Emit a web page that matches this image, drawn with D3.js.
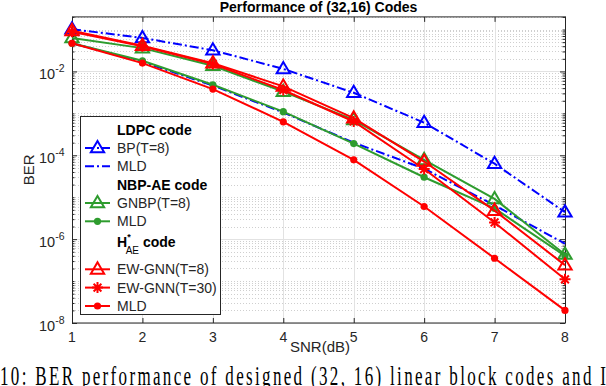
<!DOCTYPE html>
<html>
<head>
<meta charset="utf-8">
<script src="https://cdn.jsdelivr.net/npm/d3@7"></script>
<style>
	body { margin: 0; background: #fff; }
	svg { display: block; font-family: "Liberation Sans", Arial, sans-serif; }
</style>
</head>
<body>
<div id="chart"></div>
<script>
// values
const snr = [1, 2, 3, 4, 5, 6, 7, 8];
const bpT8 = [0.102, 0.063, 0.032, 0.0115, 0.0031, 6.0e-4, 6.3e-5, 4.4e-6];
const ldpcMld = [0.047, 0.017, 0.0046, 0.00105, 2.0e-4, 4.8e-5, 6.4e-6, 7.8e-7];
const gnbpT8 = [0.063, 0.036, 0.0137, 0.0033, 7.0e-4, 7.8e-5, 9.1e-6, 4.3e-7];
const nbpMld = [0.047, 0.018, 0.0048, 0.0011, 1.9e-4, 3.0e-5, 5.4e-6, 4.0e-7];
const ewT8 = [0.093, 0.041, 0.0158, 0.0044, 7.7e-4, 7.1e-5, 4.8e-6, 2.4e-7];
const ewT30 = [0.088, 0.040, 0.015, 0.0036, 6.4e-4, 4.7e-5, 2.5e-6, 1.1e-7];
const haeMld = [0.047, 0.0158, 0.0038, 6.3e-4, 7.8e-5, 6.0e-6, 3.5e-7, 2.0e-8];

const yTicks = [1e-8, 1e-6, 1e-4, 1e-2];
const yTickExp = ["-8", "-6", "-4", "-2"];

const blue = "#0000ff",
	green = "#2e9c2e",
	red = "#ff0000",
	axisCol = "#262626";

const series = [
	{ name: "BP(T=8)", values: bpT8, color: blue, dash: "9,3,2,3", marker: "tri" },
	{ name: "MLD", values: ldpcMld, color: blue, dash: "9,3,2,3", marker: null },
	{ name: "GNBP(T=8)", values: gnbpT8, color: green, dash: null, marker: "tri" },
	{ name: "MLD", values: nbpMld, color: green, dash: null, marker: "dot" },
	{ name: "EW-GNN(T=8)", values: ewT8, color: red, dash: null, marker: "tri" },
	{ name: "EW-GNN(T=30)", values: ewT30, color: red, dash: null, marker: "star" },
	{ name: "MLD", values: haeMld, color: red, dash: null, marker: "dot" },
];

const width = 606,
	height = 386;
const left = 72,
	right = 565,
	bottom = 323;

const x = d3.scaleLinear().domain([1, 8]).range([left, right]);
const y = d3.scaleLog().domain([1e-8, 0.2]).range([bottom, 16.9]);
const top_ = y.range()[1];

const svg = d3
	.select("#chart")
	.append("svg")
	.attr("width", width)
	.attr("height", height);

// grid
const minor = [];
for (let e = -8; e <= -1; e++) {
	for (let k = 1; k <= 9; k++) {
		const v = k * Math.pow(10, e);
		if (v > 0.2 + 1e-12) continue;
		if (k === 1 && e % 2 === 0) continue;
		minor.push(v);
	}
}
svg.append("g")
	.selectAll("line")
	.data(minor)
	.join("line")
	.attr("x1", left)
	.attr("x2", right)
	.attr("y1", (d) => Math.round(y(d)) + 0.5)
	.attr("y2", (d) => Math.round(y(d)) + 0.5)
	.attr("stroke", "#cfcfcf")
	.attr("stroke-dasharray", "1,2");

svg.append("g")
	.selectAll("line")
	.data(yTicks)
	.join("line")
	.attr("x1", left)
	.attr("x2", right)
	.attr("y1", (d) => Math.round(y(d)) + 0.5)
	.attr("y2", (d) => Math.round(y(d)) + 0.5)
	.attr("stroke", "#e2e2e2");

svg.append("g")
	.selectAll("line")
	.data(snr.slice(1, -1))
	.join("line")
	.attr("x1", (d) => Math.round(x(d)) + 0.5)
	.attr("x2", (d) => Math.round(x(d)) + 0.5)
	.attr("y1", top_)
	.attr("y2", bottom)
	.attr("stroke", "#e2e2e2");

// axes (ticks inward, box on)
function styleAxis(g) {
	g.select(".domain").remove();
	g.selectAll("line").attr("stroke", axisCol);
	g.selectAll("text").remove();
}
svg.append("g")
	.attr("transform", `translate(0,${bottom})`)
	.call(d3.axisBottom(x).tickValues(snr).tickSize(-5))
	.call(styleAxis);
svg.append("g")
	.attr("transform", `translate(0,${top_})`)
	.call(d3.axisTop(x).tickValues(snr).tickSize(-5))
	.call(styleAxis);
svg.append("g")
	.attr("transform", `translate(${left},0)`)
	.call(d3.axisLeft(y).tickValues(minor).tickSize(-2.5))
	.call(styleAxis);
svg.append("g")
	.attr("transform", `translate(${left},0)`)
	.call(d3.axisLeft(y).tickValues(yTicks).tickSize(-5))
	.call(styleAxis);
svg.append("g")
	.attr("transform", `translate(${right},0)`)
	.call(d3.axisRight(y).tickValues(minor).tickSize(-2.5))
	.call(styleAxis);
svg.append("g")
	.attr("transform", `translate(${right},0)`)
	.call(d3.axisRight(y).tickValues(yTicks).tickSize(-5))
	.call(styleAxis);

svg.append("rect")
	.attr("x", left + 0.5)
	.attr("y", top_)
	.attr("width", right - left)
	.attr("height", bottom - top_)
	.attr("fill", "none")
	.attr("stroke", axisCol)
	.attr("stroke-width", 1);

// tick labels
svg.append("g")
	.selectAll("text")
	.data(snr)
	.join("text")
	.attr("x", (d) => x(d))
	.attr("y", bottom + 19)
	.attr("text-anchor", "middle")
	.attr("font-size", 14)
	.attr("fill", axisCol)
	.text((d) => d);

const yl = svg
	.append("g")
	.selectAll("text")
	.data(yTicks)
	.join("text")
	.attr("x", left - 27)
	.attr("y", (d) => y(d) + 8)
	.attr("text-anchor", "end")
	.attr("font-size", 14.5)
	.attr("fill", axisCol)
	.text("10");
yl.append("tspan")
	.attr("font-size", 10.5)
	.attr("dy", -7)
	.text((d, i) => yTickExp[i]);
yl.attr("text-anchor", "start").attr("x", left - 33);

// labels
svg.append("text")
	.attr("x", (left + right) / 2)
	.attr("y", 12)
	.attr("text-anchor", "middle")
	.attr("font-size", 14)
	.attr("font-weight", "bold")
	.attr("fill", "#000")
	.text("Performance of (32,16) Codes");

svg.append("text")
	.attr("x", 320)
	.attr("y", 352)
	.attr("text-anchor", "middle")
	.attr("font-size", 15)
	.attr("fill", axisCol)
	.text("SNR(dB)");

svg.append("text")
	.attr("transform", `translate(34,${(top_ + bottom) / 2}) rotate(-90)`)
	.attr("text-anchor", "middle")
	.attr("font-size", 15)
	.attr("fill", axisCol)
	.text("BER");

// series
const line = d3
	.line()
	.x((d, i) => x(snr[i]))
	.y((d) => y(d));

const triPath = (s) => `M0,${-s}L${s * 0.95},${s * 0.62}L${-s * 0.95},${s * 0.62}Z`;
const starPath = (s) => {
	let p = "";
	for (let k = 0; k < 4; k++) {
		const a = (k * Math.PI) / 4;
		p += `M${-s * Math.cos(a)},${-s * Math.sin(a)}L${s * Math.cos(a)},${s * Math.sin(a)}`;
	}
	return p;
};

function drawMarker(g, type, color) {
	if (type === "tri") {
		g.append("path")
			.attr("d", triPath(7))
			.attr("fill", "none")
			.attr("stroke", color)
			.attr("stroke-width", 2);
	} else if (type === "dot") {
		g.append("circle").attr("r", 3.6).attr("fill", color);
	} else if (type === "star") {
		g.append("path")
			.attr("d", starPath(5.5))
			.attr("stroke", color)
			.attr("stroke-width", 2);
	}
}

series.forEach((s) => {
	svg.append("path")
		.datum(s.values)
		.attr("d", line)
		.attr("fill", "none")
		.attr("stroke", s.color)
		.attr("stroke-width", 2)
		.attr("stroke-dasharray", s.dash);
	if (s.marker) {
		svg.append("g")
			.selectAll("g")
			.data(s.values)
			.join("g")
			.attr("transform", (d, i) => `translate(${x(snr[i])},${y(d)})`)
			.each(function () {
				drawMarker(d3.select(this), s.marker, s.color);
			});
	}
});

// legend
const legendRows = [
	{ head: "LDPC code", y: 129.5 },
	{ s: 0, y: 148 },
	{ s: 1, y: 166.3 },
	{ head: "NBP-AE code", y: 184.6 },
	{ s: 2, y: 203 },
	{ s: 3, y: 221.3 },
	{ head: "hae", y: 242 },
	{ s: 4, y: 269.3 },
	{ s: 5, y: 287.6 },
	{ s: 6, y: 306 },
];

const lg = svg.append("g");
lg.append("rect")
	.attr("x", 80.5)
	.attr("y", 116.5)
	.attr("width", 140)
	.attr("height", 198)
	.attr("fill", "#fff")
	.attr("stroke", axisCol)
	.attr("stroke-width", 1);

legendRows.forEach((r) => {
	if (r.head === "hae") {
		const t = lg
			.append("text")
			.attr("x", 117)
			.attr("y", r.y + 5)
			.attr("font-size", 14)
			.attr("font-weight", "bold")
			.attr("fill", "#000");
		t.append("tspan").text("H");
		t.append("tspan").attr("font-size", 9).attr("dy", -7).text("*");
		t.append("tspan").attr("font-size", 10).attr("font-weight", "normal").attr("dx", -5).attr("dy", 14).text("AE");
		t.append("tspan").attr("dx", 4).attr("dy", -7).text("code");
	} else if (r.head) {
		lg.append("text")
			.attr("x", 117)
			.attr("y", r.y + 5)
			.attr("font-size", 14)
			.attr("font-weight", "bold")
			.attr("fill", "#000")
			.text(r.head);
	} else {
		const s = series[r.s];
		lg.append("line")
			.attr("x1", 85)
			.attr("x2", 110)
			.attr("y1", r.y)
			.attr("y2", r.y)
			.attr("stroke", s.color)
			.attr("stroke-width", 2)
			.attr("stroke-dasharray", s.dash);
		if (s.marker) {
			const m = lg.append("g").attr("transform", `translate(97.5,${r.y})`);
			drawMarker(m, s.marker, s.color);
		}
		lg.append("text")
			.attr("x", 117)
			.attr("y", r.y + 5)
			.attr("font-size", 14)
			.attr("fill", axisCol)
			.text(s.name);
	}
});

// caption fragment below the figure
svg.append("text")
	.attr("transform", "translate(0,366) scale(1,1.6)")
	.attr("y", 12)
	.attr("font-family", "'Liberation Serif', 'Times New Roman', serif")
	.attr("font-size", 17)
	.attr("fill", "#000")
	.attr("textLength", 606)
	.attr("lengthAdjust", "spacing")
	.text("10:  BER performance of designed (32, 16) linear block codes and I");
</script>
</body>
</html>
